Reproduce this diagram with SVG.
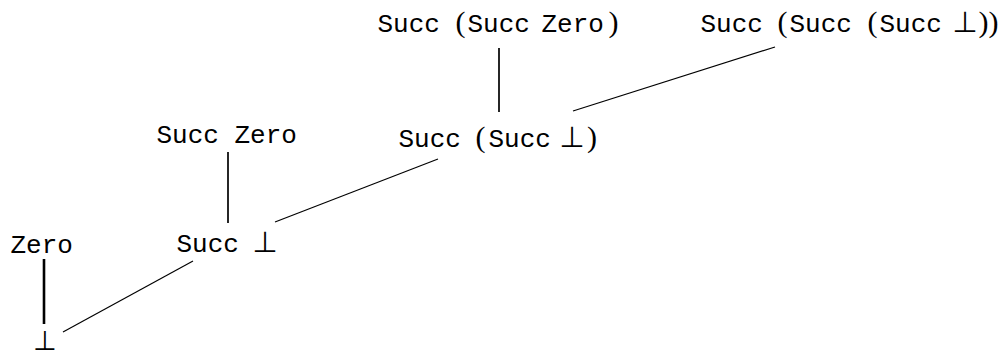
<svg xmlns="http://www.w3.org/2000/svg" width="1008" height="356" viewBox="0 0 1008 356">
<style>
.tt{font-family:"Liberation Mono","DejaVu Sans Mono",monospace;font-size:26px;fill:#000}
.rm{font-family:"Liberation Serif","DejaVu Serif",serif;font-size:30px;fill:#000}
.bot{font-family:"DejaVu Sans",sans-serif;font-size:29px;fill:#000}
.tight{word-spacing:-5px}
.v{stroke:#000;stroke-width:1.7;fill:none}
.d{stroke:#000;stroke-width:1.2;fill:none}
</style>
<rect width="1008" height="356" fill="#fff"/>
<g id="connectors">
<line class="v" x1="44" y1="259" x2="44" y2="324" style="stroke-width:2.6"/>
<line class="v" x1="228" y1="152" x2="228" y2="223"/>
<line class="v" x1="499" y1="48" x2="499" y2="112"/>
<line class="d" x1="63" y1="332" x2="193" y2="261"/>
<line class="d" x1="275" y1="222" x2="438" y2="159"/>
<line class="d" x1="573" y1="111" x2="775" y2="47"/>
</g>
<g id="bottom"><text class="bot" x="45" y="349.5" text-anchor="middle" style="font-size:27px">⊥</text></g>
<g id="zero"><text class="tt" x="10.5" y="253">Zero</text></g>
<g id="succ-bottom"><text y="252"><tspan class="tt" x="176.5">Succ</tspan><tspan class="bot" x="243"> ⊥</tspan></text></g>
<g id="succ-zero"><text class="tt" x="156.5" y="143">Succ Zero</text></g>
<g id="succ-succ-bottom"><text y="147"><tspan class="tt" x="398.5">Succ</tspan><tspan class="rm" x="468"> (</tspan><tspan class="tt" x="488.5">Succ</tspan><tspan class="bot tight" x="555"> ⊥</tspan><tspan class="rm" x="587">)</tspan></text></g>
<g id="succ-succ-zero"><text y="32"><tspan class="tt" x="377.5">Succ</tspan><tspan class="rm" x="448"> (</tspan><tspan class="tt" x="467.5" style="word-spacing:-4px">Succ Zero</tspan><tspan class="rm" x="608.5">)</tspan></text></g>
<g id="succ-succ-succ-bottom"><text y="32"><tspan class="tt" x="700.5">Succ</tspan><tspan class="rm" x="770"> (</tspan><tspan class="tt" x="789.5">Succ</tspan><tspan class="rm" x="860"> (</tspan><tspan class="tt" x="879.5">Succ</tspan><tspan class="bot tight" x="948"> ⊥</tspan><tspan class="rm" x="978.5">))</tspan></text></g>
</svg>
